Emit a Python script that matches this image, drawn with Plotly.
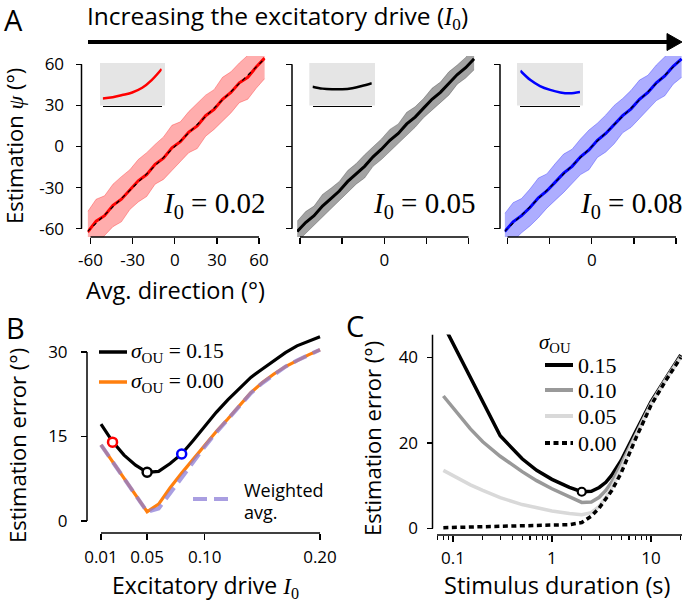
import plotly.graph_objects as go

W, H = 686, 601
def fx(p): return p / W
def fy(p): return 1 - p / H

SANS = "'Open Sans', 'DejaVu Sans', sans-serif"
SERIF = "'Liberation Serif', 'DejaVu Serif', serif"

# ---------------- Panel A data ----------------
direction = [-62, -56, -50, -44, -38, -32, -26, -20, -14, -8, -2, 4, 10, 16, 22, 28, 34, 40, 46, 52, 58, 64]
psi_I002 = [-62.5, -54.5, -50.5, -43.0, -38.5, -31.5, -25.0, -20.5, -13.0, -8.5, -1.0, 3.5, 10.5, 15.0, 22.5, 27.0, 34.5, 39.5, 46.5, 50.5, 58.0, 64.5]
sd_I002 = [15.0, 16.0, 14.5, 15.5, 16.5, 14.5, 15.5, 16.0, 14.5, 15.5, 16.5, 14.5, 15.0, 16.5, 15.0, 14.5, 16.0, 15.0, 14.5, 16.0, 15.5, 15.0]
psi_I005 = [-62.0, -55.5, -50.5, -43.5, -38.0, -32.5, -25.5, -20.0, -14.5, -7.5, -2.0, 4.5, 9.5, 16.5, 21.5, 28.0, 34.5, 39.5, 46.0, 52.5, 57.5, 64.0]
sd_I005 = [7.5, 8.0, 7.0, 8.5, 7.5, 7.0, 8.0, 7.5, 8.5, 7.0, 7.5, 8.0, 7.0, 8.5, 7.5, 7.0, 8.0, 7.5, 8.5, 7.0, 7.5, 8.0]
psi_I008 = [-62.0, -55.0, -50.5, -44.5, -37.5, -32.5, -26.0, -19.5, -14.5, -7.5, -2.5, 4.5, 9.5, 16.0, 22.5, 27.5, 34.5, 39.5, 46.5, 51.5, 58.5, 64.0]
sd_I008 = [13.0, 14.0, 12.5, 13.5, 14.5, 12.5, 13.5, 14.0, 12.5, 13.0, 14.5, 12.5, 13.5, 14.0, 12.5, 13.5, 14.0, 12.5, 13.0, 14.5, 13.0, 13.5]
dir_ticks = [-60, -30, 0, 30, 60]
dir_ticktext = ["-60", "-30", "0", "30", "60"]
dir_minor_nolabel = [-60, -30, 30, 60]

# insets (normalised shapes)
inset_x = [0.0, 0.17, 0.33, 0.5, 0.67, 0.83, 1.0]
inset_I002 = [0.17, 0.20, 0.25, 0.31, 0.42, 0.60, 0.86]
inset_I005 = [0.445, 0.40, 0.385, 0.385, 0.41, 0.46, 0.525]
inset_I008 = [0.82, 0.60, 0.46, 0.37, 0.31, 0.29, 0.32]

# ---------------- Panel B data ----------------
drive = [0.01, 0.02, 0.03, 0.04, 0.05, 0.06, 0.07, 0.08, 0.09, 0.10,
         0.11, 0.12, 0.13, 0.14, 0.15, 0.16, 0.17, 0.18, 0.19, 0.20]
err_ou015 = [17.2, 14.1, 11.7, 9.9, 8.65, 8.8, 10.2, 11.9, 14.3, 16.9,
             19.3, 21.5, 23.6, 25.5, 27.0, 28.5, 29.9, 31.1, 31.9, 32.7]
err_ou000 = [13.5, 10.5, 7.6, 4.6, 1.65, 3.0, 5.9, 8.5, 11.0, 13.5,
             15.9, 18.1, 20.5, 22.8, 24.6, 26.1, 27.4, 28.5, 29.5, 30.4]
err_weighted = [13.5, 10.5, 7.6, 4.6, 1.65, 2.2, 5.0, 7.9, 10.6, 13.2,
                15.7, 18.0, 20.4, 22.7, 24.5, 26.0, 27.4, 28.5, 29.5, 30.4]
marked_drive = [0.02, 0.05, 0.08]
marked_err = [14.0, 8.65, 11.9]
marked_colors = ["#ff0000", "#000000", "#0000ff"]
drive_ticks = [0.01, 0.05, 0.10, 0.20]
drive_ticktext = ["0.01", "0.05", "0.10", "0.20"]
errB_ticks = [0, 15, 30]

# ---------------- Panel C data ----------------
duration = [0.08, 0.1, 0.15, 0.2, 0.3, 0.5, 0.7, 1.0, 1.5, 2.0, 2.5, 3.0, 3.5, 4.0, 5.0, 7.0, 10.0, 14.0, 20.0]
errC_015 = [47.7, 43.3, 35.3, 29.7, 21.7, 16.3, 13.6, 11.5, 9.6, 8.6, 8.7, 9.6, 10.8, 12.4, 15.9, 22.6, 29.6, 35.0, 40.6]
errC_010 = [31.0, 28.3, 23.3, 20.3, 16.9, 13.3, 11.2, 9.3, 7.3, 6.1, 6.2, 7.3, 8.9, 10.8, 15.0, 22.0, 29.2, 34.8, 40.3]
errC_005 = [13.6, 12.4, 10.2, 8.9, 7.2, 5.6, 4.8, 4.1, 3.5, 3.2, 3.7, 5.2, 7.3, 9.5, 14.0, 21.6, 29.0, 34.6, 40.1]
errC_000 = [0.2, 0.25, 0.3, 0.35, 0.4, 0.5, 0.6, 0.7, 0.9, 1.4, 2.9, 4.8, 6.8, 8.8, 13.0, 21.0, 28.8, 34.5, 40.0]
opt_duration = [2.0]
opt_err = [8.6]
dur_ticks = [0.1, 1, 10]
dur_ticktext = ["0.1", "1", "10"]
dur_minor = [0.07, 0.08, 0.09, 0.2, 0.3, 0.4, 0.5, 0.6, 0.7, 0.8, 0.9, 2, 3, 4, 5, 6, 7, 8, 9, 20]
errC_ticks = [0, 20, 40]

fig = go.Figure()
shapes = []
ann = []

TICKF = dict(family=SANS, size=17, color="black")
TK = dict(ticks="outside", ticklen=6, tickwidth=1.4, tickcolor="black", showline=False,
          showgrid=False, zeroline=False, tickfont=TICKF, automargin=False)

def spine_y(axref, x_px, y0, y1):
    shapes.append(dict(type="line", xref="paper", yref=axref, x0=fx(x_px), x1=fx(x_px),
                       y0=y0, y1=y1, line=dict(color="black", width=1.5)))

def spine_x(axref, y_px, x0, x1):
    shapes.append(dict(type="line", xref=axref, yref="paper", x0=x0, x1=x1,
                       y0=fy(y_px), y1=fy(y_px), line=dict(color="black", width=1.5)))

# ---------------- Panel A ----------------
A_specs = [
    dict(psi=psi_I002, sd=sd_I002, line="#ff0000", fill="rgba(255,0,0,0.32)", edge="rgba(255,0,0,0.30)",
         lab="0.02", dom=(87.5, 265.5), spine=81.5, n=1, inset=inset_I002, box=(100, 165), ix=(102.7, 161.7)),
    dict(psi=psi_I005, sd=sd_I005, line="#000000", fill="rgba(0,0,0,0.36)", edge="rgba(0,0,0,0.25)",
         lab="0.05", dom=(297, 475), spine=292, n=2, inset=inset_I005, box=(309.3, 375), ix=(312.5, 371.8)),
    dict(psi=psi_I008, sd=sd_I008, line="#0000ff", fill="rgba(0,0,255,0.32)", edge="rgba(0,0,255,0.30)",
         lab="0.08", dom=(504.5, 682.5), spine=500, n=3, inset=inset_I008, box=(517, 583), ix=(520.3, 580)),
]
layout_axes = {}
for s in A_specs:
    n = s["n"]
    xa = "x" if n == 1 else f"x{n}"
    ya = "y" if n == 1 else f"y{n}"
    lower = [p - d for p, d in zip(s["psi"], s["sd"])]
    upper = [p + d for p, d in zip(s["psi"], s["sd"])]
    fig.add_trace(go.Scatter(x=direction, y=lower, mode="lines", line=dict(color=s["edge"], width=1),
                             xaxis=xa, yaxis=ya, showlegend=False, hoverinfo="skip"))
    fig.add_trace(go.Scatter(x=direction, y=upper, mode="lines", line=dict(color=s["edge"], width=1),
                             fill="tonexty", fillcolor=s["fill"], xaxis=xa, yaxis=ya, showlegend=False, hoverinfo="skip"))
    fig.add_trace(go.Scatter(x=direction, y=s["psi"], mode="lines", line=dict(color=s["line"], width=3),
                             xaxis=xa, yaxis=ya, showlegend=False))
    fig.add_trace(go.Scatter(x=direction, y=direction, mode="lines",
                             line=dict(color="black", width=1.2, dash="4px,4px"),
                             xaxis=xa, yaxis=ya, showlegend=False, hoverinfo="skip"))
    xkey = "xaxis" if n == 1 else f"xaxis{n}"
    ykey = "yaxis" if n == 1 else f"yaxis{n}"
    if n == 1:
        xt = dict(tickmode="array", tickvals=dir_ticks, ticktext=dir_ticktext)
        yt = dict(tickmode="array", tickvals=dir_ticks, ticktext=dir_ticktext, showticklabels=True)
    else:
        xt = dict(tickmode="array", tickvals=[0], ticktext=["0"],
                  minor=dict(tickmode="array", tickvals=dir_minor_nolabel, ticks="outside", ticklen=6,
                             tickwidth=1.4, tickcolor="black", showgrid=False))
        yt = dict(tickmode="array", tickvals=dir_ticks, showticklabels=False)
    layout_axes[xkey] = dict(domain=[fx(s["dom"][0]), fx(s["dom"][1])], range=[-62.14, 64.63],
                             anchor="free", position=fy(237), ticklabelstandoff=2, **xt, **TK)
    layout_axes[ykey] = dict(domain=[fy(237), fy(56)], range=[-66.06, 66.06],
                             anchor="free", position=fx(s["spine"]), ticklabelstandoff=8, **yt, **TK)
    spine_y(ya, s["spine"], -60, 60)
    spine_x(xa, 237, -60, 60)
    # inset
    m = n + 3
    ixa, iya = f"x{m}", f"y{m}"
    shapes.append(dict(type="rect", xref="paper", yref="paper", x0=fx(s["box"][0]), x1=fx(s["box"][1]),
                       y0=fy(105.5), y1=fy(63), fillcolor="#e5e5e5", line=dict(width=0), layer="below"))
    fig.add_trace(go.Scatter(x=inset_x, y=s["inset"], mode="lines", line=dict(color=s["line"], width=2.5, shape="spline"),
                             xaxis=ixa, yaxis=iya, showlegend=False, hoverinfo="skip"))
    layout_axes[f"xaxis{m}"] = dict(domain=[fx(s["ix"][0]), fx(s["ix"][1])], range=[0, 1], anchor=iya,
                                    showline=True, linecolor="black", linewidth=1.6, showticklabels=False,
                                    ticks="", showgrid=False, zeroline=False, automargin=False)
    layout_axes[f"yaxis{m}"] = dict(domain=[fy(105.7), fy(63)], range=[0, 1], anchor=ixa, visible=False,
                                    automargin=False)
    # I0 label
    ann.append(dict(text=f"<i>I</i><sub>0</sub> = {s['lab']}", x=fx(s["dom"][1] + 1.5), y=fy(205),
                    xref="paper", yref="paper", xanchor="right", yanchor="middle", showarrow=False,
                    font=dict(family=SERIF, size=29, color="black")))

# ---------------- Panel B ----------------
fig.add_trace(go.Scatter(x=drive, y=err_ou015, mode="lines", line=dict(color="black", width=3.2),
                         xaxis="x7", yaxis="y7", showlegend=False))
fig.add_trace(go.Scatter(x=drive, y=err_ou000, mode="lines", line=dict(color="#ff7f0e", width=3.2),
                         xaxis="x7", yaxis="y7", showlegend=False))
fig.add_trace(go.Scatter(x=drive, y=err_weighted, mode="lines",
                         line=dict(color="rgba(140,125,215,0.75)", width=4, dash="14px,7px"),
                         xaxis="x7", yaxis="y7", showlegend=False))
fig.add_trace(go.Scatter(x=marked_drive, y=marked_err, mode="markers",
                         marker=dict(size=9, color="white", line=dict(color=marked_colors, width=2.5)),
                         xaxis="x7", yaxis="y7", showlegend=False))
layout_axes["xaxis7"] = dict(domain=[fx(95), fx(324)], range=[0.004794, 0.20347], anchor="free", position=fy(533),
                             tickmode="array", tickvals=drive_ticks, ticktext=drive_ticktext,
                             ticklabelstandoff=3, **TK)
layout_axes["yaxis7"] = dict(domain=[fy(533), fy(330)], range=[-2.13, 33.91], anchor="free", position=fx(87),
                             tickmode="array", tickvals=errB_ticks, ticklabelstandoff=10, **TK)
spine_y("y7", 87, 0, 30)
spine_x("x7", 533, 0.01, 0.20)

# ---------------- Panel C ----------------
C_series = [(errC_015, dict(color="black", width=3.5)),
            (errC_010, dict(color="#999999", width=3.5)),
            (errC_005, dict(color="#d9d9d9", width=3.5)),
            (errC_000, dict(color="black", width=3.5, dash="5px,3.5px"))]
for ys, ln in C_series:
    fig.add_trace(go.Scatter(x=duration, y=ys, mode="lines", line=ln, xaxis="x8", yaxis="y8", showlegend=False))
fig.add_trace(go.Scatter(x=opt_duration, y=opt_err, mode="markers",
                         marker=dict(size=8, color="white", line=dict(color="black", width=2.2)),
                         xaxis="x8", yaxis="y8", showlegend=False))
layout_axes["xaxis8"] = dict(domain=[fx(437), fx(682)], type="log", range=[-1.1612, 1.3135], anchor="free",
                             position=fy(535), tickmode="array", tickvals=dur_ticks, ticktext=dur_ticktext,
                             minor=dict(tickmode="array", tickvals=dur_minor, ticks="outside", ticklen=3.5,
                                        tickwidth=1.1, tickcolor="black", showgrid=False),
                             ticklabelstandoff=2, **TK)
layout_axes["yaxis8"] = dict(domain=[fy(535), fy(334.6)], range=[-1.52, 45.36], anchor="free", position=fx(432.5),
                             tickmode="array", tickvals=errC_ticks, ticklabelstandoff=5, **TK)
spine_y("y8", 432.5, 0, 45.36)
shapes.append(dict(type="line", xref="paper", yref="paper", x0=fx(437), x1=fx(682), y0=fy(535), y1=fy(535),
                   line=dict(color="black", width=1.5)))

# ---------------- legends (keys + text) ----------------
def key(x0, x1, y, color, width, dash="solid"):
    shapes.append(dict(type="line", xref="paper", yref="paper", x0=fx(x0), x1=fx(x1), y0=fy(y), y1=fy(y),
                       line=dict(color=color, width=width, dash=dash)))

def txt(text, x, y, size, family=SANS, xanchor="left", angle=0):
    ann.append(dict(text=text, x=fx(x), y=fy(y), xref="paper", yref="paper", xanchor=xanchor,
                    yanchor="middle", showarrow=False, textangle=angle,
                    font=dict(family=family, size=size, color="black")))

key(99, 127, 352, "black", 3.5)
key(99, 127, 382, "#ff7f0e", 3.5)
txt("<i>σ</i><sub>OU</sub> = 0.15", 129, 352, 21.5, SERIF)
txt("<i>σ</i><sub>OU</sub> = 0.00", 129, 382, 21.5, SERIF)
key(193, 230, 499, "rgba(140,125,215,0.75)", 4, "14px,7px")
txt("Weighted", 242, 490, 18)
txt("avg.", 242, 512, 18)

txt("<i>σ</i><sub>OU</sub>", 537, 343, 21, SERIF)
key(545, 573, 365, "black", 4)
key(545, 573, 390, "#999999", 4)
key(545, 573, 416, "#d9d9d9", 4)
key(545, 573, 443, "black", 4, "5px,3.5px")
txt("0.15", 576, 365, 22, SERIF)
txt("0.10", 576, 390, 22, SERIF)
txt("0.05", 576, 416, 22, SERIF)
txt("0.00", 576, 443, 22, SERIF)

# ---------------- titles / labels ----------------
txt("A", 13, 20, 29, xanchor="center")
txt("B", 15, 327, 29, xanchor="center")
txt("C", 355, 325, 29, xanchor="center")
txt("Increasing the excitatory drive (<span style='font-family:Liberation Serif'><i>I</i><sub>0</sub></span>)",
    85, 17, 24.5)
shapes.append(dict(type="line", xref="paper", yref="paper", x0=fx(88), x1=fx(669), y0=fy(42), y1=fy(42),
                   line=dict(color="black", width=4)))
shapes.append(dict(type="path", xref="paper", yref="paper",
                   path=f"M {fx(667)},{fy(33.5)} L {fx(682)},{fy(42)} L {fx(667)},{fy(50.5)} Z",
                   fillcolor="black", line=dict(color="black", width=1)))
txt("Estimation <span style='font-family:Liberation Serif'><i>ψ</i></span> (°)", 14, 146, 22,
    xanchor="center", angle=-90)
txt("Avg. direction (°)", 175, 290, 23.5, xanchor="center")
txt("Estimation error (°)", 17, 446, 22, xanchor="center", angle=-90)
txt("Excitatory drive <span style='font-family:Liberation Serif'><i>I</i><sub>0</sub></span>", 205, 585.5, 23,
    xanchor="center")
txt("Estimation error (°)", 372, 439, 22, xanchor="center", angle=-90)
txt("Stimulus duration (s)", 557, 585, 23.5, xanchor="center")

fig.update_layout(width=W, height=H, margin=dict(l=0, r=0, t=0, b=0, pad=0, autoexpand=False),
                  paper_bgcolor="white", plot_bgcolor="rgba(0,0,0,0)", showlegend=False,
                  shapes=shapes, annotations=ann, font=dict(family=SANS, color="black"), **layout_axes)
fig.write_html("out.html", config={"displayModeBar": False, "staticPlot": True},
               post_script="document.body.style.margin='0';document.body.style.overflow='hidden';")
